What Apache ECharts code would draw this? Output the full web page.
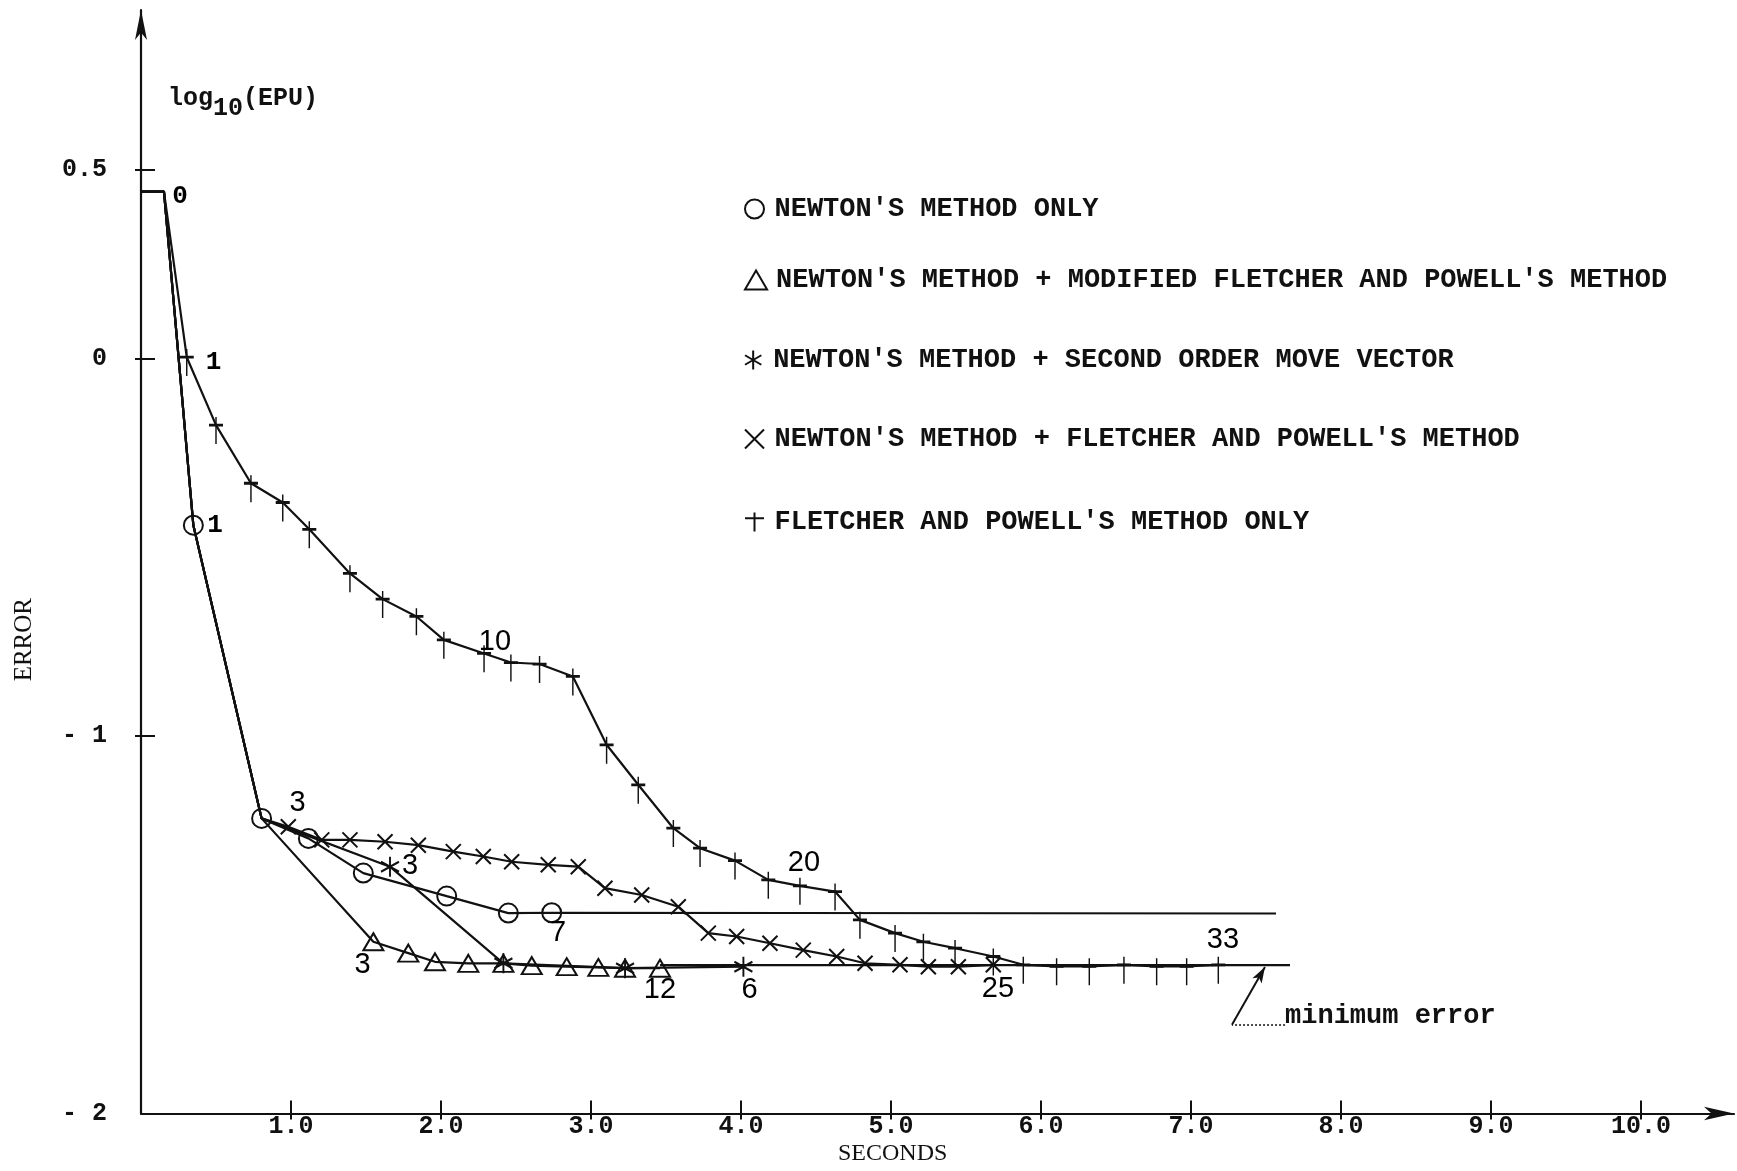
<!DOCTYPE html>
<html>
<head>
<meta charset="utf-8">
<script src="https://cdn.jsdelivr.net/npm/echarts@6/dist/echarts.min.js"></script>
<style>html,body{margin:0;padding:0;background:#fff}#c{width:1737px;height:1171px}</style>
</head>
<body>
<div id="c"></div>
<script>
// ---- data (seconds, log10(EPU)) ----
const START_T = [0, 0.153];
const START_V = [0.443, 0.443];

const NEWTON_T = [0.349, 0.804, 1.116, 1.482, 2.038, 2.449, 2.738];
const NEWTON_V = [-0.441, -1.218, -1.271, -1.363, -1.424, -1.469, -1.468];
const NEWTON_END_T = [7.567];
const NEWTON_END_V = [-1.470];

const TRI_T = [1.549, 1.782, 1.960, 2.182, 2.416, 2.605, 2.838, 3.049, 3.227, 3.460];
const TRI_V = [-1.545, -1.575, -1.598, -1.602, -1.602, -1.608, -1.611, -1.613, -1.615, -1.615];

const AST_T = [1.660, 2.416, 3.227, 4.016];
const AST_V = [-1.346, -1.602, -1.615, -1.611];

const X_T = [0.982, 1.205, 1.393, 1.627, 1.849, 2.082, 2.282, 2.471, 2.715, 2.915, 3.093, 3.338, 3.582,
             3.782, 3.971, 4.193, 4.415, 4.638, 4.827, 5.060, 5.249, 5.449, 5.682];
const X_V = [-1.240, -1.275, -1.275, -1.280, -1.289, -1.306, -1.319, -1.333, -1.341, -1.346, -1.403, -1.421, -1.452,
             -1.522, -1.531, -1.549, -1.567, -1.584, -1.602, -1.606, -1.611, -1.611, -1.606];

const FP_T = [0.305, 0.500, 0.733, 0.945, 1.122, 1.393, 1.611, 1.836, 2.019, 2.287, 2.466, 2.657, 2.879,
              3.104, 3.315, 3.549, 3.727, 3.960, 4.182, 4.393, 4.627, 4.793, 5.027, 5.216, 5.427, 5.682,
              5.882, 6.104, 6.322, 6.553, 6.771, 6.971, 7.182];
const FP_V = [0.004, -0.176, -0.330, -0.381, -0.452, -0.569, -0.637, -0.683, -0.745, -0.781, -0.805, -0.809, -0.842,
              -1.023, -1.129, -1.244, -1.297, -1.330, -1.381, -1.397, -1.412, -1.487, -1.522, -1.545, -1.562, -1.584,
              -1.606, -1.610, -1.610, -1.606, -1.610, -1.610, -1.606];

const MIN_ERR_T = [3.460, 7.660];
const MIN_ERR_V = [-1.607, -1.607];

// iteration-number annotations
const LBL_TEXT = ['0', '1', '1', '10', '3', '3', '7', '3', '12', '6', '20', '25', '33'];
const LBL_T = [0.26, 0.483, 0.493, 2.36, 1.043, 1.793, 2.78, 1.477, 3.46, 4.057, 4.42, 5.713, 7.213];
const LBL_V = [0.431, -0.009, -0.441, -0.751, -1.177, -1.345, -1.523, -1.606, -1.673, -1.673, -1.336, -1.669, -1.540];
const LBL_TYPED = [true, true, true, false, false, false, false, false, false, false, false, false, false];

// "minimum error" note
const NOTE_TEXT = 'minimum error';
const NOTE_T = [7.627];
const NOTE_V = [-1.742];
const LEADER_T = [7.627, 7.273, 7.493];
const LEADER_V = [-1.765, -1.765, -1.612];

// axes
const X_TICKS = [1, 2, 3, 4, 5, 6, 7, 8, 9, 10];
const Y_LABELS = [-2, -1, 0, 0.5];
const Y_TICKS = [-1, 0, 0.5];

const NAMES = [
  "NEWTON'S METHOD ONLY",
  "NEWTON'S METHOD + MODIFIED FLETCHER AND POWELL'S METHOD",
  "NEWTON'S METHOD + SECOND ORDER MOVE VECTOR",
  "NEWTON'S METHOD + FLETCHER AND POWELL'S METHOD",
  "FLETCHER AND POWELL'S METHOD ONLY"
];

// ---- build ----
const zip = (t, v) => t.map((x, i) => [x, v[i]]);
const start = zip(START_T, START_V);
const newtonPts = zip(NEWTON_T, NEWTON_V);
const shared = start.concat(newtonPts.slice(0, 2));

const INK = '#111111';
const MONO = "'Liberation Mono', 'DejaVu Sans Mono', monospace";
const HAND = "'Liberation Sans', 'DejaVu Sans', sans-serif";

const SYM = {
  circle: 'path://M0,50A50,50,0,1,1,100,50A50,50,0,1,1,0,50Z',
  tri: 'path://M50,0L100,86L0,86Z',
  ast: 'path://M50,0L50,100M7,25L93,75M93,25L7,75',
  x: 'path://M0,0L100,100M100,0L0,100',
  dagger: 'path://M50,0L50,100M0,30L100,30'
};
const symStyle = {color: 'rgba(0,0,0,0)', borderColor: INK, borderWidth: 2};

function mkSeries(name, data, range, sym, size, offset) {
  return {
    name: name, type: 'line', data: data,
    symbol: (val, p) => (p.dataIndex >= range.from && p.dataIndex < range.to) ? sym : 'none',
    symbolSize: size, symbolOffset: offset || [0, 0], symbolKeepAspect: false,
    showAllSymbol: true,
    lineStyle: {color: INK, width: 2.2},
    itemStyle: symStyle,
    emphasis: {disabled: true}, silent: true, animation: false, z: 3
  };
}

const newtonData = start.concat(newtonPts, zip(NEWTON_END_T, NEWTON_END_V));
const triData = shared.concat(zip(TRI_T, TRI_V));
const astData = shared.concat(zip(AST_T, AST_V));
const xData = shared.concat(zip(X_T, X_V));
const fpData = start.concat(zip(FP_T, FP_V));

const series = [
  mkSeries(NAMES[0], newtonData, {from: 2, to: 2 + NEWTON_T.length}, SYM.circle, 19),
  mkSeries(NAMES[1], triData, {from: 4, to: 4 + TRI_T.length}, SYM.tri, [20, 17]),
  mkSeries(NAMES[2], astData, {from: 4, to: 4 + AST_T.length}, SYM.ast, [18, 20]),
  mkSeries(NAMES[3], xData, {from: 4, to: 4 + X_T.length}, SYM.x, [15, 15]),
  mkSeries(NAMES[4], fpData, {from: 2, to: 2 + FP_T.length}, SYM.dagger, [14, 27], [0, 5.4]),
  {
    name: 'min', type: 'line', data: zip(MIN_ERR_T, MIN_ERR_V), symbol: 'none',
    lineStyle: {color: INK, width: 2.2}, silent: true, animation: false, z: 2,
    markLine: {
      silent: true, animation: false, symbol: 'none',
      label: {show: false},
      data: [
        [{coord: [LEADER_T[0], LEADER_V[0]], symbol: 'none'},
         {coord: [LEADER_T[1], LEADER_V[1]], symbol: 'none', lineStyle: {type: [2, 2], color: INK, width: 1.6}}],
        [{coord: [LEADER_T[1], LEADER_V[1]], symbol: 'none'},
         {coord: [LEADER_T[2], LEADER_V[2]], symbol: 'arrow', symbolSize: [8, 16], lineStyle: {type: 'solid', color: INK, width: 2}}]
      ],
      lineStyle: {color: INK, width: 2, type: 'solid'}
    }
  },
  {
    name: 'labels', type: 'scatter', symbolSize: 0, silent: true, animation: false, z: 5,
    itemStyle: {opacity: 1, color: INK},
    data: LBL_TEXT.map((s, i) => ({
      value: [LBL_T[i], LBL_V[i]], name: s,
      label: LBL_TYPED[i]
        ? {fontFamily: MONO, fontWeight: 'bold', fontSize: 26}
        : {fontFamily: HAND, fontWeight: 'normal', fontSize: 29}
    })),
    label: {show: true, position: 'inside', formatter: p => p.name, color: '#000', opacity: 1,
            textBorderWidth: 0, textShadowBlur: 0}
  },
  {
    name: 'note', type: 'scatter', symbolSize: 0, silent: true, animation: false, z: 5,
    itemStyle: {opacity: 1, color: INK},
    data: NOTE_T.map((t, i) => ({value: [t, NOTE_V[i]], name: NOTE_TEXT})),
    label: {show: true, position: 'right', distance: 0, formatter: p => p.name, opacity: 1,
            color: INK, fontFamily: MONO, fontWeight: 'bold', fontSize: 27, textBorderWidth: 0}
  }
];

const LEGEND_TOPS = [189, 260, 340, 419, 502];
const LEGEND_ICONS = [SYM.circle, SYM.tri, SYM.ast, SYM.x, SYM.dagger];
const legends = NAMES.map((n, i) => ({
  orient: 'vertical', left: 739, top: LEGEND_TOPS[i],
  itemWidth: 30, itemHeight: 19, symbolKeepAspect: true, selectedMode: false,
  textStyle: {fontFamily: MONO, fontWeight: 'bold', fontSize: 27, color: INK, lineHeight: 30},
  data: [{name: n, icon: LEGEND_ICONS[i], itemStyle: symStyle}]
}));

const chart = echarts.init(document.getElementById('c'), null, {renderer: 'canvas'});
const X_MAX = 10.62, Y_MAX = 0.924;
chart.setOption({
  backgroundColor: '#fff',
  animation: false,
  title: {
    text: '{a|log}{s|10}{a|(EPU)}', left: 163, top: 86,
    textStyle: {rich: {
      a: {fontFamily: MONO, fontWeight: 'bold', fontSize: 25, color: INK, lineHeight: 26, padding: [0, 0, 10, 0]},
      s: {fontFamily: MONO, fontWeight: 'bold', fontSize: 25, color: INK, lineHeight: 26, padding: [10, 0, 0, 0]}
    }}
  },
  legend: legends,
  grid: {left: 141, right: 3, top: 10, bottom: 57.5, containLabel: false, outerBoundsMode: 'none'},
  xAxis: [{
    type: 'value', min: 0, max: X_MAX, position: 'bottom',
    splitLine: {show: false},
    axisLine: {show: true, onZero: false, lineStyle: {color: INK, width: 2.2}, symbol: ['none', 'arrow'], symbolSize: [10, 30]},
    axisTick: {show: true, inside: true, length: 13, customValues: X_TICKS, lineStyle: {color: INK, width: 2}},
    axisLabel: {show: true, customValues: X_TICKS, margin: 1, formatter: v => v.toFixed(1),
                fontFamily: MONO, fontWeight: 'bold', fontSize: 25, color: INK}
  }, {
    type: 'value', min: 0, max: X_MAX, position: 'bottom',
    splitLine: {show: false}, axisLine: {show: false, onZero: false},
    axisTick: {show: true, inside: false, length: 6, customValues: X_TICKS, lineStyle: {color: INK, width: 2}},
    axisLabel: {show: false}
  }],
  yAxis: [{
    type: 'value', min: -2, max: Y_MAX, position: 'left',
    splitLine: {show: false},
    axisLine: {show: true, onZero: false, lineStyle: {color: INK, width: 2.2}, symbol: ['none', 'arrow'], symbolSize: [9, 30]},
    axisTick: {show: true, inside: true, length: 14, customValues: Y_TICKS, lineStyle: {color: INK, width: 2}},
    axisLabel: {show: true, customValues: Y_LABELS, margin: 34,
                formatter: v => (v < 0 ? '- ' + Math.abs(v) : String(v)),
                fontFamily: MONO, fontWeight: 'bold', fontSize: 25, color: INK}
  }, {
    type: 'value', min: -2, max: Y_MAX, position: 'left',
    splitLine: {show: false}, axisLine: {show: false, onZero: false},
    axisTick: {show: true, inside: false, length: 6, customValues: Y_TICKS, lineStyle: {color: INK, width: 2}},
    axisLabel: {show: false}
  }],
  graphic: [
    {type: 'text', left: 12, top: 598, rotation: Math.PI / 2,
     style: {text: 'ERROR', font: "25px 'Liberation Serif', serif", fill: INK}},
    {type: 'text', left: 838, top: 1142,
     style: {text: 'SECONDS', font: "24px 'Liberation Serif', serif", fill: INK}}
  ],
  series: series
});
</script>
</body>
</html>
